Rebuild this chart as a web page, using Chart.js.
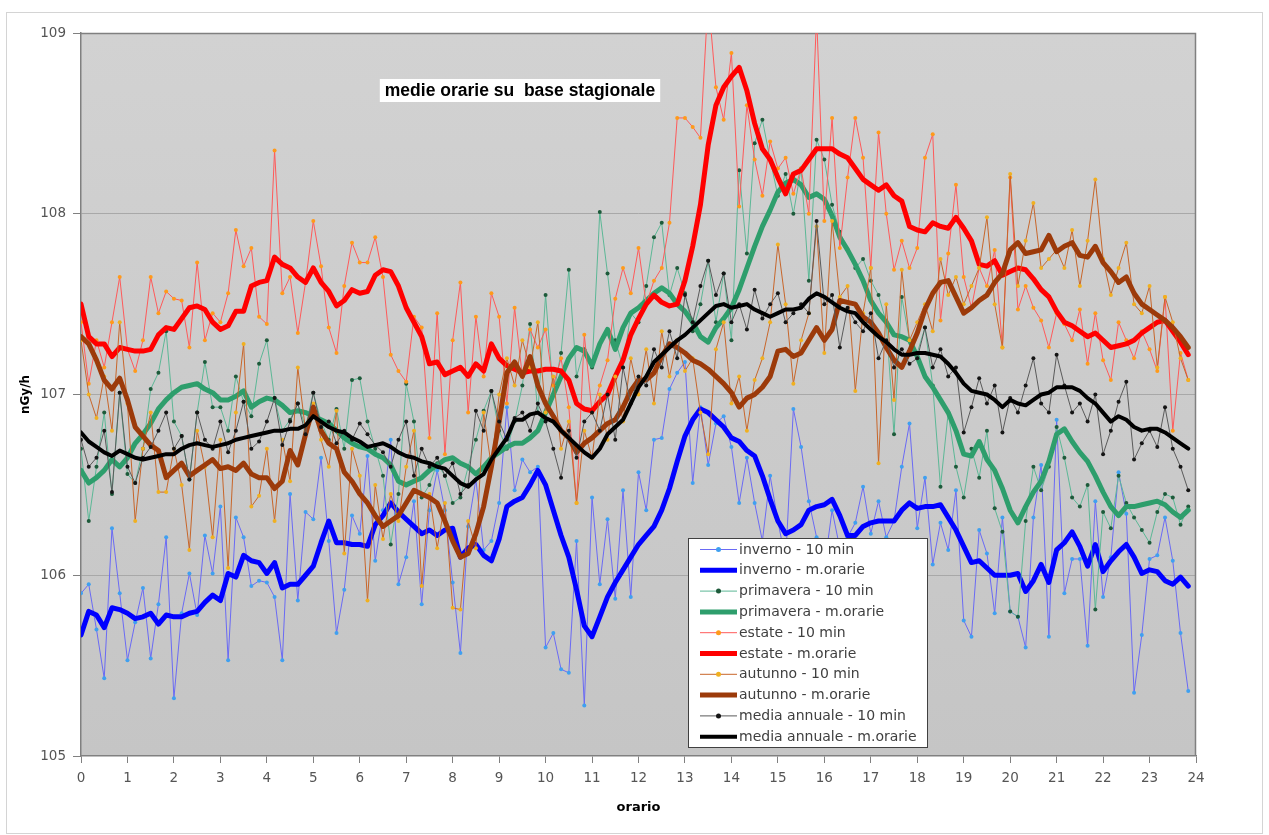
<!DOCTYPE html>
<html>
<head>
<meta charset="utf-8">
<script src="https://cdn.jsdelivr.net/npm/chart.js@4.4.1/dist/chart.umd.min.js"></script>
<style>
  html, body { margin: 0; padding: 0; background: #ffffff; }
  #wrap { width: 1269px; height: 835px; }
  canvas { display: block; }
</style>
</head>
<body>
<div id="wrap"><canvas id="grafico" width="1269" height="835"></canvas></div>
<script>
// ore del giorno, passo di 10 minuti (0 .. 23:50)
const orario = Array.from({ length: 144 }, (_, i) => i / 6);

// dose equivalente media, nGy/h
const invernoDieciMin = [
  105.90,105.95,105.70,105.43,106.26,105.90,105.53,105.74,105.93,105.54,105.84,106.21,
  105.32,105.79,106.01,105.78,106.22,106.01,106.38,105.53,106.32,106.21,105.94,105.97,
  105.96,105.88,105.53,106.45,105.86,106.35,106.31,106.65,106.19,105.68,105.92,106.33,
  106.23,106.66,106.08,106.36,106.75,105.95,106.10,106.41,105.84,106.36,106.58,106.36,
  105.96,105.57,106.27,106.53,106.14,106.19,106.40,106.93,106.47,106.64,106.57,106.60,
  105.60,105.68,105.48,105.46,106.19,105.28,106.43,105.95,106.31,105.87,106.47,105.88,
  106.57,106.36,106.75,106.76,107.03,107.12,107.18,106.51,106.93,106.61,106.84,106.88,
  106.71,106.40,106.65,106.40,106.19,106.55,106.30,106.08,106.92,106.71,106.41,106.21,
  106.04,106.36,106.15,106.21,106.29,106.49,106.23,106.41,106.21,106.30,106.60,106.84,
  106.26,106.54,106.06,106.29,106.14,106.47,105.75,105.66,106.25,106.12,105.79,106.32,
  105.80,105.77,105.60,106.32,106.61,105.66,106.86,105.90,106.09,106.09,105.61,106.41,
  105.88,106.10,106.57,106.34,105.35,105.67,106.09,106.11,106.32,106.08,105.68,105.36
];
const invernoOrarie = [
  105.67,105.80,105.78,105.71,105.82,105.81,105.79,105.76,105.77,105.79,105.73,105.78,
  105.77,105.77,105.79,105.80,105.85,105.89,105.86,106.01,105.99,106.11,106.08,106.07,
  106.01,106.07,105.93,105.95,105.95,106.00,106.05,106.18,106.30,106.18,106.18,106.17,
  106.17,106.16,106.28,106.33,106.40,106.35,106.31,106.27,106.23,106.25,106.22,106.25,
  106.26,106.10,106.15,106.17,106.11,106.08,106.20,106.38,106.41,106.43,106.50,106.58,
  106.50,106.36,106.22,106.10,105.92,105.72,105.66,105.77,105.88,105.96,106.03,106.10,
  106.17,106.22,106.27,106.36,106.48,106.63,106.77,106.86,106.92,106.90,106.86,106.82,
  106.76,106.74,106.69,106.66,106.55,106.42,106.30,106.23,106.25,106.28,106.36,106.38,
  106.39,106.42,106.33,106.22,106.22,106.27,106.29,106.30,106.30,106.30,106.36,106.40,
  106.37,106.38,106.38,106.39,106.32,106.25,106.16,106.07,106.08,106.04,106.00,106.00,
  106.00,106.01,105.91,105.97,106.06,105.96,106.14,106.18,106.24,106.16,106.05,106.17,
  106.02,106.08,106.13,106.17,106.10,106.01,106.03,106.02,105.97,105.95,105.99,105.94
];
const primaveraDieciMin = [
  106.70,106.30,106.60,106.90,106.45,107.01,106.56,106.51,106.70,107.03,107.12,107.35,
  106.85,106.77,106.53,106.90,107.18,106.93,106.93,106.80,107.10,106.96,106.88,107.17,
  107.30,106.98,106.80,106.86,106.95,106.82,107.01,106.85,106.75,106.92,106.70,107.08,
  107.09,106.85,106.70,106.55,106.17,106.45,107.06,106.85,106.43,106.50,106.62,106.55,
  106.40,106.43,106.60,106.75,106.91,107.02,106.80,106.70,106.85,107.05,107.39,106.90,
  107.55,107.00,107.23,107.69,107.10,107.25,107.15,108.01,107.67,107.30,107.15,107.45,
  107.40,107.60,107.87,107.95,107.55,107.70,107.56,107.35,107.50,107.74,107.40,107.67,
  107.30,108.24,107.78,108.39,108.52,108.30,108.10,108.22,108.00,108.25,107.63,108.41,
  108.30,108.05,107.90,107.80,107.70,107.75,107.63,107.55,107.40,106.78,107.54,107.30,
  107.23,107.37,107.05,106.49,106.90,106.60,106.43,106.70,106.54,106.80,106.37,106.24,
  105.80,105.77,106.30,106.60,106.47,106.60,106.82,106.65,106.43,106.38,106.50,105.81,
  106.35,106.26,106.55,106.40,106.32,106.25,106.18,106.35,106.45,106.43,106.28,106.38
];
const primaveraOrarie = [
  106.58,106.51,106.54,106.58,106.64,106.60,106.65,106.73,106.78,106.84,106.92,106.97,
  107.01,107.04,107.05,107.06,107.03,107.01,106.97,106.97,106.99,107.02,106.93,106.96,
  106.98,106.97,106.94,106.90,106.91,106.90,106.88,106.86,106.84,106.80,106.76,106.73,
  106.71,106.70,106.67,106.65,106.61,106.52,106.50,106.52,106.54,106.58,106.61,106.64,
  106.65,106.62,106.60,106.56,106.60,106.65,106.68,106.71,106.73,106.73,106.76,106.80,
  106.90,107.00,107.10,107.20,107.26,107.24,107.16,107.28,107.36,107.25,107.37,107.45,
  107.48,107.52,107.56,107.59,107.56,107.50,107.46,107.40,107.32,107.29,107.37,107.42,
  107.48,107.58,107.70,107.82,107.93,108.02,108.12,108.17,108.19,108.16,108.09,108.11,
  108.08,107.99,107.87,107.80,107.72,107.63,107.52,107.45,107.40,107.33,107.32,107.30,
  107.21,107.10,107.04,106.97,106.90,106.80,106.67,106.66,106.74,106.64,106.58,106.48,
  106.36,106.29,106.38,106.46,106.52,106.63,106.78,106.81,106.74,106.68,106.63,106.55,
  106.46,106.38,106.33,106.38,106.38,106.39,106.40,106.41,106.39,106.35,106.32,106.36
];
const estateDieciMin = [
  107.40,107.06,107.30,107.15,107.40,107.65,107.25,107.13,107.30,107.65,107.45,107.57,
  107.53,107.52,107.26,107.73,107.30,107.45,107.40,107.56,107.91,107.71,107.81,107.43,
  107.39,108.35,107.56,107.65,107.34,107.62,107.96,107.71,107.37,107.23,107.60,107.84,
  107.73,107.73,107.87,107.65,107.22,107.13,107.07,107.43,107.37,106.76,107.45,106.67,
  107.30,107.62,106.90,107.43,107.10,107.56,107.43,106.95,107.48,107.10,107.36,107.26,
  107.36,107.05,107.20,106.93,106.40,107.33,106.90,107.05,107.19,107.53,107.70,107.56,
  107.81,107.50,107.63,107.70,107.95,108.53,108.53,108.48,108.42,109.20,108.70,108.52,
  108.89,108.04,108.60,108.30,108.10,108.40,108.25,108.31,108.11,108.25,108.00,109.10,
  107.96,108.53,107.81,108.20,108.53,108.31,107.70,108.45,108.00,107.69,107.85,107.70,
  107.81,108.31,108.44,107.41,107.78,108.16,107.65,107.48,107.70,107.60,107.80,107.26,
  108.20,107.47,107.60,107.48,107.41,107.26,107.45,107.39,107.30,107.47,107.17,107.45,
  107.19,107.08,107.40,107.30,107.20,107.35,107.25,107.13,107.54,106.80,107.23,107.08
];
const estateOrarie = [
  107.50,107.32,107.28,107.28,107.21,107.26,107.25,107.24,107.24,107.25,107.33,107.37,
  107.36,107.42,107.48,107.49,107.47,107.40,107.36,107.38,107.46,107.46,107.60,107.62,
  107.63,107.76,107.72,107.70,107.65,107.62,107.70,107.62,107.57,107.49,107.52,107.58,
  107.56,107.57,107.66,107.69,107.68,107.60,107.48,107.40,107.32,107.17,107.18,107.11,
  107.13,107.15,107.10,107.17,107.13,107.28,107.20,107.16,107.14,107.12,107.13,107.13,
  107.14,107.14,107.13,107.08,106.95,106.92,106.91,106.96,107.00,107.10,107.19,107.33,
  107.42,107.50,107.55,107.51,107.49,107.50,107.63,107.82,108.05,108.38,108.60,108.70,
  108.76,108.81,108.68,108.50,108.36,108.30,108.20,108.11,108.22,108.24,108.30,108.36,
  108.36,108.36,108.33,108.31,108.25,108.19,108.16,108.13,108.16,108.10,108.07,107.93,
  107.91,107.90,107.95,107.93,107.92,107.98,107.92,107.85,107.72,107.71,107.74,107.66,
  107.68,107.70,107.69,107.64,107.58,107.54,107.46,107.40,107.38,107.35,107.32,107.34,
  107.30,107.26,107.27,107.28,107.30,107.34,107.37,107.40,107.41,107.35,107.29,107.22
];
const autunnoDieciMin = [
  107.30,107.00,106.87,107.10,106.80,107.40,106.95,106.30,106.70,106.90,106.46,106.46,
  106.70,106.50,106.14,106.80,106.60,106.21,106.75,106.04,106.90,107.28,106.38,106.44,
  106.70,106.30,106.75,106.52,107.15,106.80,106.95,106.75,106.60,106.91,106.12,106.70,
  106.55,105.86,106.50,106.20,106.45,106.30,106.60,106.80,105.94,106.45,106.15,106.40,
  105.82,105.81,106.30,106.15,106.90,106.60,107.00,107.20,107.05,107.30,107.15,107.40,
  106.90,107.10,106.70,106.85,106.40,106.80,106.65,107.00,106.75,107.10,106.85,107.20,
  107.00,107.25,106.95,107.35,107.10,107.30,107.13,107.20,106.90,106.67,107.25,107.40,
  106.95,107.10,106.80,107.08,107.20,107.40,107.83,107.50,107.06,107.30,107.45,107.93,
  107.23,107.96,107.54,107.60,107.02,107.45,107.70,106.62,107.50,106.97,107.69,107.30,
  107.40,107.50,107.35,107.75,107.55,107.65,107.50,107.60,107.70,107.98,107.50,107.26,
  108.22,107.60,107.85,108.06,107.70,107.75,107.80,107.70,107.91,107.60,107.85,108.19,
  107.75,107.55,107.70,107.84,107.50,107.45,107.60,107.15,107.54,107.40,107.20,107.08
];
const autunnoOrarie = [
  107.32,107.28,107.19,107.08,107.03,107.09,106.97,106.82,106.77,106.72,106.69,106.54,
  106.58,106.62,106.55,106.58,106.61,106.64,106.59,106.60,106.58,106.62,106.56,106.54,
  106.54,106.48,106.52,106.69,106.61,106.78,106.93,106.80,106.73,106.70,106.57,106.52,
  106.45,106.40,106.33,106.27,106.30,106.33,106.40,106.47,106.45,106.43,106.40,106.30,
  106.19,106.10,106.12,106.23,106.38,106.60,106.85,107.12,107.18,107.10,107.21,107.05,
  106.95,106.88,106.80,106.76,106.68,106.73,106.76,106.80,106.84,106.86,106.93,107.02,
  107.08,107.08,107.12,107.21,107.28,107.26,107.23,107.19,107.17,107.14,107.10,107.06,
  107.01,106.93,106.98,107.00,107.04,107.10,107.24,107.25,107.21,107.23,107.30,107.37,
  107.30,107.36,107.52,107.51,107.50,107.43,107.40,107.34,107.26,107.19,107.15,107.24,
  107.34,107.47,107.56,107.62,107.63,107.54,107.45,107.48,107.52,107.55,107.62,107.67,
  107.80,107.84,107.78,107.79,107.80,107.88,107.79,107.82,107.84,107.77,107.76,107.82,
  107.73,107.68,107.62,107.65,107.56,107.50,107.47,107.44,107.41,107.37,107.32,107.26
];
const mediaDieciMin = [
  106.75,106.60,106.65,106.80,106.46,107.01,106.60,106.51,106.65,106.71,106.80,106.90,
  106.70,106.77,106.53,106.90,106.75,106.70,106.85,106.68,106.80,106.96,106.70,106.74,
  106.85,106.98,106.72,106.85,106.95,106.78,107.01,106.82,106.85,106.73,106.80,106.75,
  106.84,106.78,106.72,106.68,106.60,106.75,106.85,106.55,106.70,106.60,106.65,106.55,
  106.62,106.45,106.50,106.91,106.80,107.02,106.85,106.75,106.87,106.90,106.80,106.95,
  106.85,106.70,106.54,106.80,106.65,106.85,106.90,106.80,107.00,106.75,107.15,106.95,
  107.10,107.05,107.25,107.15,107.35,107.20,107.55,107.40,107.60,107.74,107.55,107.67,
  107.40,107.50,107.36,107.58,107.42,107.50,107.56,107.40,107.45,107.50,107.45,107.96,
  107.50,107.55,107.26,107.48,107.40,107.35,107.45,107.20,107.30,107.15,107.25,107.17,
  107.20,107.37,107.15,107.25,107.10,107.15,106.79,106.93,107.09,106.95,107.05,106.79,
  106.98,106.90,107.05,107.20,106.95,106.90,107.22,107.05,106.90,106.95,106.85,107.00,
  106.67,106.80,106.96,107.07,106.64,106.73,106.80,106.71,106.93,106.70,106.60,106.47
];
const mediaOrarie = [
  106.79,106.74,106.71,106.68,106.66,106.69,106.67,106.65,106.64,106.65,106.66,106.67,
  106.67,106.70,106.72,106.73,106.72,106.71,106.72,106.73,106.75,106.76,106.77,106.78,
  106.79,106.80,106.80,106.81,106.81,106.83,106.88,106.85,106.82,106.80,106.79,106.76,
  106.74,106.71,106.72,106.73,106.71,106.68,106.66,106.65,106.63,106.62,106.60,106.59,
  106.55,106.51,106.49,106.53,106.56,106.64,106.70,106.76,106.86,106.86,106.89,106.90,
  106.87,106.85,106.80,106.76,106.72,106.68,106.65,106.70,106.78,106.82,106.86,106.95,
  107.04,107.10,107.18,107.22,107.26,107.30,107.33,107.37,107.41,107.45,107.49,107.50,
  107.48,107.49,107.50,107.47,107.45,107.43,107.45,107.47,107.47,107.48,107.53,107.56,
  107.54,107.51,107.48,107.46,107.45,107.40,107.36,107.32,107.29,107.25,107.22,107.22,
  107.23,107.23,107.22,107.21,107.17,107.12,107.06,107.02,107.01,107.00,106.97,106.93,
  106.97,106.95,106.94,106.97,107.00,107.01,107.04,107.04,107.04,107.02,106.98,106.95,
  106.90,106.85,106.88,106.86,106.82,106.80,106.81,106.81,106.79,106.76,106.73,106.70
];

const nomiSerie = [
  'inverno - 10 min', 'inverno - m.orarie',
  'primavera - 10 min', 'primavera - m.orarie',
  'estate - 10 min', 'estate - m.orarie',
  'autunno - 10 min', 'autunno - m.orarie',
  'media annuale - 10 min', 'media annuale - m.orarie'
];
const titoloGrafico = 'medie orarie su  base stagionale';

// stile di ogni serie: linea sottile con marcatori oppure linea spessa
const stili = [
  { linea: '#6a6af5', punto: '#3fa0f0', spessore: 1, raggio: 2 },
  { linea: '#0000ff', punto: null, spessore: 5, raggio: 0 },
  { linea: '#5cb896', punto: '#1d5a3a', spessore: 1, raggio: 2 },
  { linea: '#2e9e6c', punto: null, spessore: 5, raggio: 0 },
  { linea: '#ff5a5a', punto: '#ff9a1a', spessore: 1, raggio: 2 },
  { linea: '#ff0000', punto: null, spessore: 5, raggio: 0 },
  { linea: '#c8662a', punto: '#f0b020', spessore: 1, raggio: 2 },
  { linea: '#9c3a0a', punto: null, spessore: 5, raggio: 0 },
  { linea: '#5a5a5a', punto: '#141414', spessore: 1, raggio: 2 },
  { linea: '#000000', punto: null, spessore: 4, raggio: 0 }
];
const valoriSerie = [
  invernoDieciMin, invernoOrarie, primaveraDieciMin, primaveraOrarie,
  estateDieciMin, estateOrarie, autunnoDieciMin, autunnoOrarie,
  mediaDieciMin, mediaOrarie
];

const datasets = valoriSerie.map((valori, k) => ({
  label: nomiSerie[k],
  data: orario.map((h, i) => ({ x: h, y: valori[i] })),
  borderColor: stili[k].linea,
  borderWidth: stili[k].spessore,
  borderJoinStyle: 'round',
  borderCapStyle: 'round',
  pointRadius: stili[k].raggio,
  pointBorderWidth: 0,
  pointBackgroundColor: stili[k].punto || stili[k].linea,
  tension: 0,
  fill: false,
  clip: 0,
  order: valoriSerie.length - k
}));

// sfondo del grafico, area del tracciato e cornici
const sfondo = {
  id: 'sfondo',
  beforeDraw(chart) {
    const { ctx, chartArea: a } = chart;
    ctx.save();
    ctx.fillStyle = '#ffffff';
    ctx.fillRect(0, 0, chart.width, chart.height);
    ctx.strokeStyle = '#d4d4d4';
    ctx.lineWidth = 1;
    ctx.strokeRect(6.5, 12.5, chart.width - 13, chart.height - 14);
    const g = ctx.createLinearGradient(0, a.top, 0, a.bottom);
    g.addColorStop(0, '#d2d2d2');
    g.addColorStop(1, '#c5c5c5');
    ctx.fillStyle = g;
    ctx.fillRect(a.left, a.top, a.right - a.left, a.bottom - a.top);
    ctx.restore();
  },
  beforeDatasetsDraw(chart) {
    const { ctx, chartArea: a } = chart;
    ctx.save();
    ctx.strokeStyle = '#808080';
    ctx.lineWidth = 1.5;
    ctx.beginPath();
    ctx.moveTo(a.left, a.top + 0.5);
    ctx.lineTo(a.right - 0.5, a.top + 0.5);
    ctx.lineTo(a.right - 0.5, a.bottom);
    ctx.stroke();
    ctx.restore();
  }
};

// titolo interno e legenda
const decorazioni = {
  id: 'decorazioni',
  afterDraw(chart) {
    const { ctx } = chart;
    ctx.save();
    // titolo con riquadro bianco
    ctx.font = 'bold 17.5px "Liberation Sans", Arial, sans-serif';
    const w = ctx.measureText(titoloGrafico).width;
    const cx = 520, cy = 90;
    ctx.fillStyle = '#ffffff';
    ctx.fillRect(cx - w / 2 - 5, cy - 11, w + 10, 23);
    ctx.fillStyle = '#000000';
    ctx.textAlign = 'center';
    ctx.textBaseline = 'middle';
    ctx.fillText(titoloGrafico, cx, cy + 1);

    // legenda
    const lx = 688, ly = 538, lw = 240, lh = 210;
    ctx.fillStyle = '#ffffff';
    ctx.fillRect(lx, ly, lw, lh);
    ctx.strokeStyle = '#404040';
    ctx.lineWidth = 1;
    ctx.strokeRect(lx + 0.5, ly + 0.5, lw - 1, lh - 1);
    ctx.font = '14px "DejaVu Sans", sans-serif';
    ctx.textAlign = 'left';
    ctx.textBaseline = 'middle';
    nomiSerie.forEach((nome, k) => {
      const y = ly + 11.5 + k * 20.8;
      const s = stili[k];
      ctx.strokeStyle = s.linea;
      ctx.lineWidth = s.spessore;
      ctx.lineCap = 'butt';
      ctx.beginPath();
      ctx.moveTo(lx + 12, y);
      ctx.lineTo(lx + 49, y);
      ctx.stroke();
      if (s.punto) {
        ctx.fillStyle = s.punto;
        ctx.beginPath();
        ctx.arc(lx + 30.5, y, 2.5, 0, Math.PI * 2);
        ctx.fill();
      }
      ctx.fillStyle = '#404040';
      ctx.fillText(nome, lx + 51, y + 0.5);
    });
    ctx.restore();
  }
};

const testoAssi = '#555555';

new Chart(document.getElementById('grafico'), {
  type: 'line',
  data: { datasets },
  options: {
    responsive: false,
    animation: false,
    devicePixelRatio: 1,
    layout: { padding: { left: 0, top: 33, right: 73, bottom: 0 } },
    plugins: {
      legend: { display: false },
      tooltip: { enabled: false },
      title: { display: false }
    },
    scales: {
      x: {
        type: 'linear',
        min: 0,
        max: 24,
        ticks: {
          stepSize: 1,
          autoSkip: false,
          maxRotation: 0,
          color: testoAssi,
          padding: 7,
          font: { family: '"DejaVu Sans", sans-serif', size: 13.5 }
        },
        grid: {
          drawOnChartArea: false,
          drawTicks: true,
          tickLength: 7,
          tickColor: '#808080'
        },
        border: { display: true, color: '#808080', width: 1.5 },
        title: {
          display: true,
          text: 'orario',
          color: '#000000',
          font: { family: '"DejaVu Sans", sans-serif', size: 13, weight: 'bold' },
          padding: { top: 20, bottom: 20 }
        },
        afterFit(scale) { scale.height = 79; }
      },
      y: {
        min: 105,
        max: 109,
        ticks: {
          stepSize: 1,
          color: testoAssi,
          padding: 7,
          font: { family: '"DejaVu Sans", sans-serif', size: 13.5 }
        },
        grid: {
          color: (c) => (c.tick && (c.tick.value === 105 || c.tick.value === 109)) ? 'rgba(0,0,0,0)' : '#a8a8a8',
          lineWidth: 1,
          drawTicks: true,
          tickLength: 8,
          tickColor: '#808080'
        },
        border: { display: true, color: '#808080', width: 1.5 },
        title: {
          display: true,
          text: 'nGy/h',
          color: '#000000',
          font: { family: '"DejaVu Sans", sans-serif', size: 12, weight: 'bold' },
          padding: { top: 19, bottom: 19 }
        },
        afterFit(scale) { scale.width = 81; }
      }
    }
  },
  plugins: [sfondo, decorazioni]
});
</script>
</body>
</html>
